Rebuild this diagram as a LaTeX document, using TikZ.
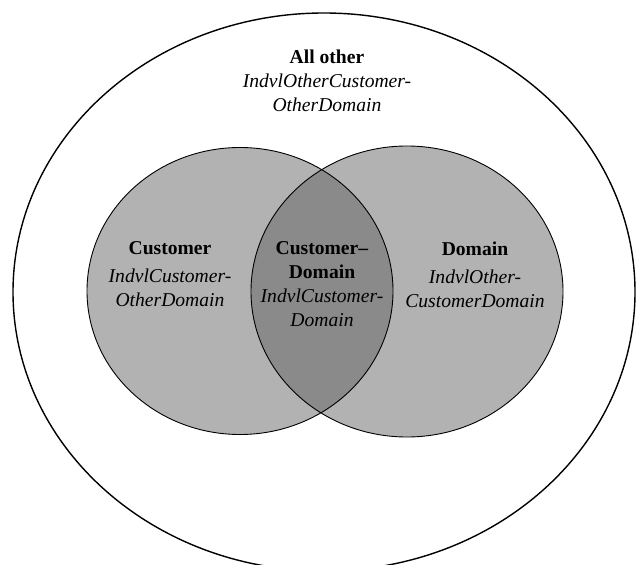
\documentclass[tikz,border=0pt]{standalone}
\usepackage{fontspec}
\setmainfont{Liberation Serif}
\usetikzlibrary{positioning}
\definecolor{setFill}{gray}{0.70}
\definecolor{lensFill}{gray}{0.54}
\tikzset{
    outer_set/.style={
        draw=black,
        line width=1.4pt
    },
    venn_set/.style={
        draw=black,
        line width=0.9pt
    },
    set_label/.style={
        align=center,
        inner sep=0pt,
        anchor=north,
        font=\fontsize{19.6}{24}\selectfont
    }
}
\newcommand{\custSet}{(240,291) ellipse [x radius=153, y radius=143.5]}
\newcommand{\domSet}{(407,291.5) ellipse [x radius=156, y radius=145.5]}

\begin{document}
\begin{tikzpicture}[x=1pt, y=-1pt]
    \useasboundingbox (0,0) rectangle (636,564);

    % outer set
    \draw[outer_set] (324,292) ellipse [x radius=311, y radius=279];

    % the two sets and their overlap
    \fill[setFill] \custSet;
    \fill[setFill] \domSet;
    \begin{scope}
        \clip \custSet;
        \fill[lensFill] \domSet;
    \end{scope}
    \draw[venn_set] \custSet;
    \draw[venn_set] \domSet;

    \node[set_label] (allOther) at (327,49.5)
        {\textbf{All other}\\ \textit{IndvlOtherCustomer-}\\ \textit{OtherDomain}};
    \node[set_label] (customer) at (170,241.5)
        {\textbf{Customer}\\[4pt] \textit{IndvlCustomer-}\\ \textit{OtherDomain}};
    \node[set_label] (custDomain) at (322,241.5)
        {\textbf{Customer--}\\ \textbf{Domain}\\ \textit{IndvlCustomer-}\\ \textit{Domain}};
    \node[set_label] (domain) at (475,241.5)
        {\textbf{Domain}\\[4pt] \textit{IndvlOther-}\\ \textit{CustomerDomain}};
\end{tikzpicture}
\end{document}
